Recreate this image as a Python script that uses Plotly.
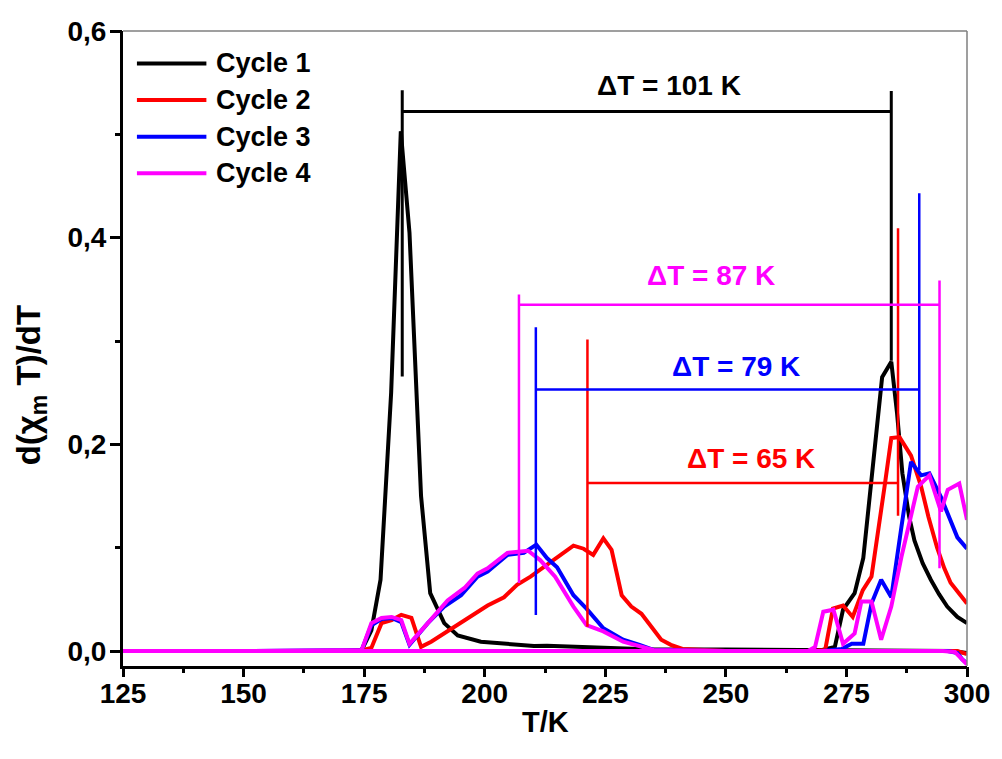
import plotly.graph_objects as go

# ---------------- data ----------------
cycles = ["Cycle 1", "Cycle 2", "Cycle 3", "Cycle 4"]
colors = ["#000000", "#FF0000", "#0000FF", "#FF00FF"]

# cooling branches (peak at low temperature)
c1_cool_T = [125, 150, 170, 174.5, 176.5, 178.4, 180.6, 182.6, 184.4, 186.8, 188.7, 191.6, 194.4, 199.2,
             203.2, 210.2, 212.9, 219.7, 233.5, 250, 270, 290, 297, 300]
c1_cool_v = [0, 0, 0, 0.001, 0.02, 0.069, 0.25, 0.503, 0.405, 0.15, 0.056, 0.027, 0.015, 0.009,
             0.0074, 0.0048, 0.005, 0.0036, 0.0016, 0.0015, 0.001, 0.0005, 0.0, -0.002]

c2_cool_T = [125, 150, 174, 176.5, 178.6, 180.7, 182.7, 184.8, 186.8, 188.9, 191.6, 195.1, 197.8, 200.6,
             204, 206.7, 209.5, 212.2, 215, 218.4, 220.5, 222.5, 224.6, 226.3, 228.4, 230.4, 232.5,
             234.5, 236.6, 238.6, 241, 250, 290, 298, 300]
c2_cool_v = [0, 0, 0, 0.003, 0.027, 0.030, 0.035, 0.032, 0.004, 0.009, 0.017, 0.027, 0.035, 0.044,
             0.052, 0.064, 0.072, 0.081, 0.090, 0.102, 0.099, 0.093, 0.109, 0.098, 0.054, 0.043, 0.036,
             0.023, 0.011, 0.006, 0.002, 0, 0, 0, -0.003]

c3_cool_T = [125, 150, 174.5, 176.5, 178.6, 180.7, 182.7, 184.4, 188.2, 191.6, 195.1, 198.5, 200.6,
             204.7, 208.1, 210.7, 212.9, 215, 218.4, 221.1, 224.6, 228.7, 232.1, 235, 250, 296, 298,
             299, 300]
c3_cool_v = [0, 0, 0.001, 0.025, 0.031, 0.032, 0.028, 0.006, 0.027, 0.043, 0.054, 0.072, 0.077,
             0.093, 0.095, 0.103, 0.090, 0.081, 0.054, 0.041, 0.022, 0.011, 0.006, 0.001, 0, 0, -0.002,
             -0.008, -0.012]

c4_cool_T = [125, 150, 174.5, 176.5, 178.6, 180.7, 182.7, 184.4, 188.2, 192.3, 195.8, 198.5, 200.6,
             204.7, 207, 209, 211.5, 214.6, 218.4, 221.1, 224.6, 228.7, 235, 250, 295, 297.5, 299, 300]
c4_cool_v = [0, 0, 0.001, 0.027, 0.032, 0.033, 0.030, 0.007, 0.027, 0.049, 0.061, 0.075, 0.080,
             0.095, 0.096, 0.097, 0.088, 0.072, 0.043, 0.025, 0.019, 0.009, 0.001, 0, 0, -0.001,
             -0.008, -0.013]

# heating branches (peak at high temperature)
c1_heat_T = [125, 200, 250, 270, 272.6, 274.3, 276.7, 278.5, 282.4, 284.3, 285.5, 286.6, 288, 289.1,
             290.8, 292.5, 294.2, 295.9, 298, 300]
c1_heat_v = [0, 0, 0, 0.001, 0.004, 0.040, 0.056, 0.09, 0.265, 0.28, 0.23, 0.172, 0.13, 0.107,
             0.085, 0.069, 0.055, 0.043, 0.033, 0.027]

c2_heat_T = [125, 200, 268, 270.6, 272.2, 274.3, 276.3, 278.4, 280.2, 282.9, 284.3, 286, 288.4, 290.5,
             292, 293.8, 295.3, 296.6, 298.5, 300]
c2_heat_v = [0, 0, 0, 0.001, 0.041, 0.044, 0.033, 0.059, 0.072, 0.159, 0.206, 0.207, 0.189, 0.159,
             0.13, 0.10, 0.08, 0.066, 0.055, 0.046]

c3_heat_T = [125, 200, 270, 274, 276.1, 278.5, 280.2, 282.2, 284.3, 286.4, 288.4, 290.5, 292.2, 294.6,
             296.3, 298, 300]
c3_heat_v = [0, 0, 0, 0.002, 0.007, 0.007, 0.046, 0.069, 0.052, 0.12, 0.183, 0.170, 0.172, 0.149,
             0.13, 0.11, 0.099]

c4_heat_T = [125, 200, 267, 268.5, 270.2, 272.3, 274.3, 276.7, 278.1, 280.2, 282.2, 284.3, 286.4, 289.8,
             292.2, 294.6, 296, 298.4, 300]
c4_heat_v = [0, 0, 0, 0.004, 0.038, 0.040, 0.007, 0.017, 0.048, 0.048, 0.011, 0.043, 0.091, 0.159,
             0.170, 0.135, 0.156, 0.162, 0.127]

# transition temperatures marked on the chart
T_low = [182.9, 221.3, 210.6, 207.1]
T_high = [284.3, 285.7, 290.1, 294.3]
dT_labels = ["ΔT = 101 K", "ΔT = 65 K", "ΔT = 79 K", "ΔT = 87 K"]

x_ticks = [125, 150, 175, 200, 225, 250, 275, 300]
x_range = [125, 300]
y_range = [-0.0145, 0.6]

# ---------------- layout geometry (not data) ----------------
# [low top, low bottom, bar level, high top, high bottom]
bracket_y = [
    [0.5427, 0.2657, 0.522, 0.542, 0.281],
    [0.3014, 0.0235, 0.1626, 0.409, 0.131],
    [0.3133, 0.0348, 0.253, 0.443, 0.175],
    [0.345, 0.0657, 0.335, 0.3585, 0.080],
]
label_pos = [(238.2, 0.547), (255.3, 0.186), (252.1, 0.275), (247.0, 0.363)]
bracket_width = [3, 2.5, 2.5, 2.5]

FONT = "Liberation Sans, Arial, sans-serif"

cool = [(c1_cool_T, c1_cool_v), (c2_cool_T, c2_cool_v), (c3_cool_T, c3_cool_v), (c4_cool_T, c4_cool_v)]
heat = [(c1_heat_T, c1_heat_v), (c2_heat_T, c2_heat_v), (c3_heat_T, c3_heat_v), (c4_heat_T, c4_heat_v)]

fig = go.Figure()

for i in range(4):
    x = list(cool[i][0]) + [None] + list(heat[i][0])
    y = list(cool[i][1]) + [None] + list(heat[i][1])
    fig.add_trace(go.Scatter(x=x, y=y, mode="lines", name=cycles[i],
                             line=dict(color=colors[i], width=4), showlegend=False))

for i in range(4):
    b = bracket_y[i]
    x = [T_low[i], T_low[i], None, T_low[i], T_high[i], None, T_high[i], T_high[i]]
    y = [b[0], b[1], None, b[2], b[2], None, b[3], b[4]]
    fig.add_trace(go.Scatter(x=x, y=y, mode="lines", line=dict(color=colors[i], width=bracket_width[i]),
                             showlegend=False, hoverinfo="skip"))
    fig.add_annotation(x=label_pos[i][0], y=label_pos[i][1], text=dT_labels[i], showarrow=False,
                       font=dict(family=FONT, size=28, color=colors[i], weight="bold"),
                       xanchor="center", yanchor="middle")

# invisible trace that carries the overlay (tick-mark) axes
fig.add_trace(go.Scatter(x=x_range, y=y_range, xaxis="x2", yaxis="y2", mode="lines",
                         line=dict(width=0, color="rgba(0,0,0,0)"), showlegend=False, hoverinfo="skip"))

# manual legend
leg_rows = [0.949, 0.8913, 0.8335, 0.7759]
for i in range(4):
    fig.add_shape(type="line", xref="paper", yref="paper", x0=0.0165, x1=0.0988,
                  y0=leg_rows[i], y1=leg_rows[i], line=dict(color=colors[i], width=4))
    fig.add_annotation(xref="paper", yref="paper", x=0.108, y=leg_rows[i], text=cycles[i],
                       showarrow=False, xanchor="left", yanchor="middle",
                       font=dict(family=FONT, size=27, color="black", weight="bold"))

# thin gray top/right frame
fig.add_shape(type="line", xref="paper", yref="paper", x0=0, x1=1, y0=1, y1=1,
              line=dict(color="#7f7f7f", width=1.5))
fig.add_shape(type="line", xref="paper", yref="paper", x0=1, x1=1, y0=0, y1=1,
              line=dict(color="#7f7f7f", width=1.5))

# axis titles
fig.add_annotation(xref="paper", yref="paper", x=0.5, y=-0.088, text="T/K", showarrow=False,
                   xanchor="center", yanchor="middle",
                   font=dict(family=FONT, size=29, color="black", weight="bold"))
fig.add_annotation(xref="paper", yref="paper", x=-0.109, y=0.442, text="d(χ<sub>m</sub> T)/dT",
                   showarrow=False, textangle=-90, xanchor="center", yanchor="middle",
                   font=dict(family=FONT, size=33, color="black", weight="bold"))

fig.update_layout(
    width=1002, height=759,
    margin=dict(l=123, r=29, t=31, b=93),
    paper_bgcolor="white", plot_bgcolor="white",
    separators=",.",
    showlegend=False,
    xaxis=dict(range=x_range, tickvals=x_ticks, ticks="", showline=True, linewidth=3,
               linecolor="black", showgrid=False, zeroline=False,
               tickfont=dict(family=FONT, size=28, color="black", weight="bold")),
    yaxis=dict(range=y_range, tick0=0, dtick=0.2, tickformat=".1f", ticks="outside", ticklen=8,
               tickcolor="rgba(0,0,0,0)", showline=True, linewidth=3, linecolor="black",
               showgrid=False, zeroline=False,
               tickfont=dict(family=FONT, size=28, color="black", weight="bold")),
    xaxis2=dict(range=x_range, overlaying="x", anchor="y2", side="bottom", tickvals=x_ticks,
                showticklabels=False, ticks="outside", ticklen=10, tickwidth=2.5, tickcolor="black",
                showline=False, showgrid=False, zeroline=False,
                minor=dict(dtick=12.5, tick0=125, ticks="outside", ticklen=6, tickwidth=2.5,
                           tickcolor="black", showgrid=False)),
    yaxis2=dict(range=y_range, overlaying="y", anchor="x2", side="left", tick0=0, dtick=0.2,
                showticklabels=False, ticks="outside", ticklen=12, tickwidth=2.5, tickcolor="black",
                showline=False, showgrid=False, zeroline=False,
                minor=dict(dtick=0.1, tick0=0, ticks="outside", ticklen=7, tickwidth=2.5,
                           tickcolor="black", showgrid=False)),
)

fig.write_html("out.html")
